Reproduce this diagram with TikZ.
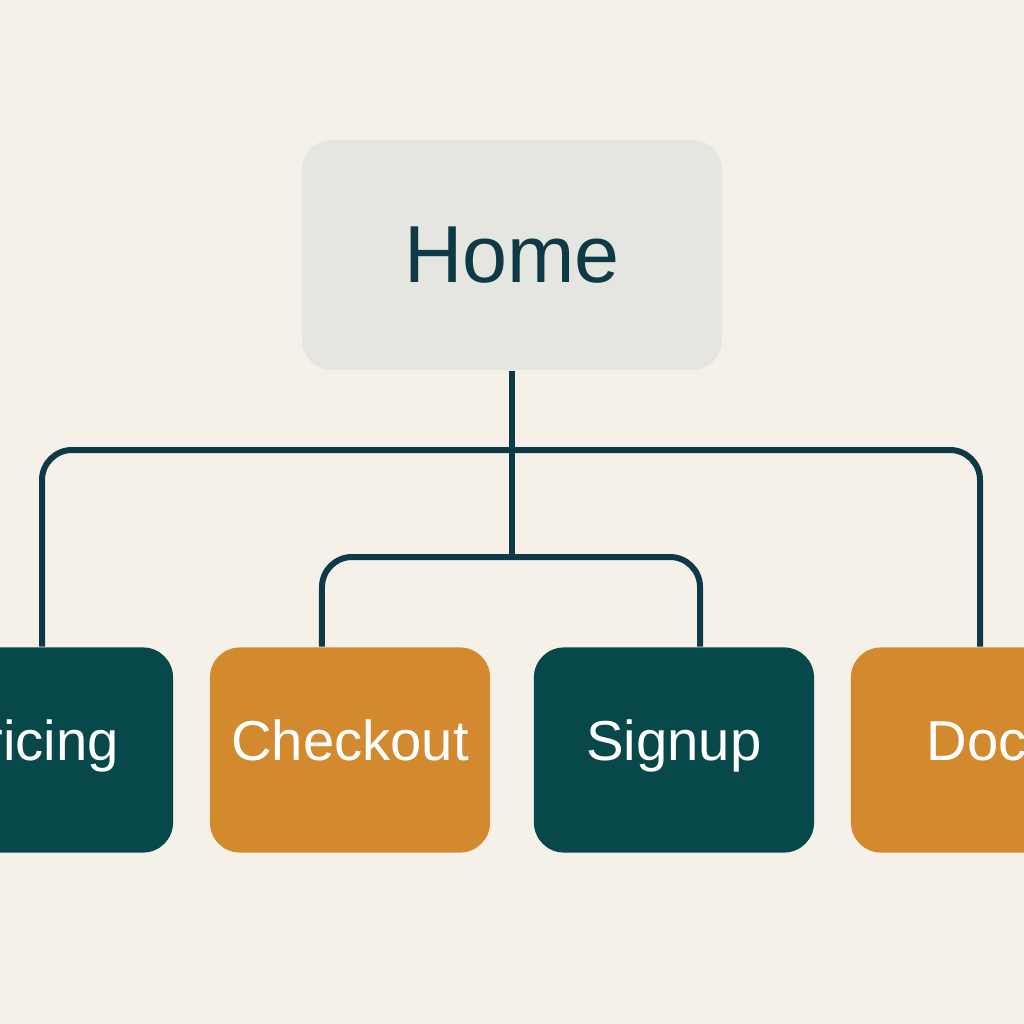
\documentclass[tikz,border=0pt]{standalone}
\usepackage{fontspec}
\setmainfont{Liberation Sans}
\definecolor{bg}{HTML}{F5F1E9}
\definecolor{homefill}{HTML}{E6E6E0}
\definecolor{ink}{HTML}{0E3A48}
\definecolor{teal}{HTML}{07494A}
\definecolor{ochre}{HTML}{D38A2F}
\tikzset{
  page/.style={rounded corners=0.3cm, minimum width=2.8cm, minimum height=2.05cm,
    text=white, text height=1.6ex, text depth=0.45ex, font=\fontsize{16}{18}\selectfont},
  link/.style={draw=ink, line width=0.06cm, rounded corners=0.3cm}
}
\begin{document}
\begin{tikzpicture}[x=0.01cm, y=-0.01cm]
\useasboundingbox (0,0) rectangle (1024,1024);
\clip (0,0) rectangle (1024,1024);
\fill[bg] (0,0) rectangle (1024,1024);

\node[rounded corners=0.3cm, minimum width=4.2cm, minimum height=2.3cm, fill=homefill,
  text=ink, font=\fontsize{23}{26}\selectfont] (home) at (512,255) {Home};

\node[page, fill=teal]  (pricing)  at (33,750)  {Pricing};
\node[page, fill=ochre] (checkout) at (350,750) {Checkout};
\node[page, fill=teal]  (signup)   at (674,750) {Signup};
\node[page, fill=ochre] (docs)     at (991,750) {Docs};

%%%%%%%%%%%%%%%%%%%%%%%%%%%%%%%%%%%%%%%%

\coordinate (outer) at (512,450);
\coordinate (inner) at (512,557);
\draw[link] (home.south) -- (inner);
\draw[link] ([xshift=0.09cm]pricing.north) |- (outer) -| ([xshift=-0.11cm]docs.north);
\draw[link] ([xshift=-0.28cm]checkout.north) |- (inner) -| ([xshift=0.26cm]signup.north);
\end{tikzpicture}
\end{document}
